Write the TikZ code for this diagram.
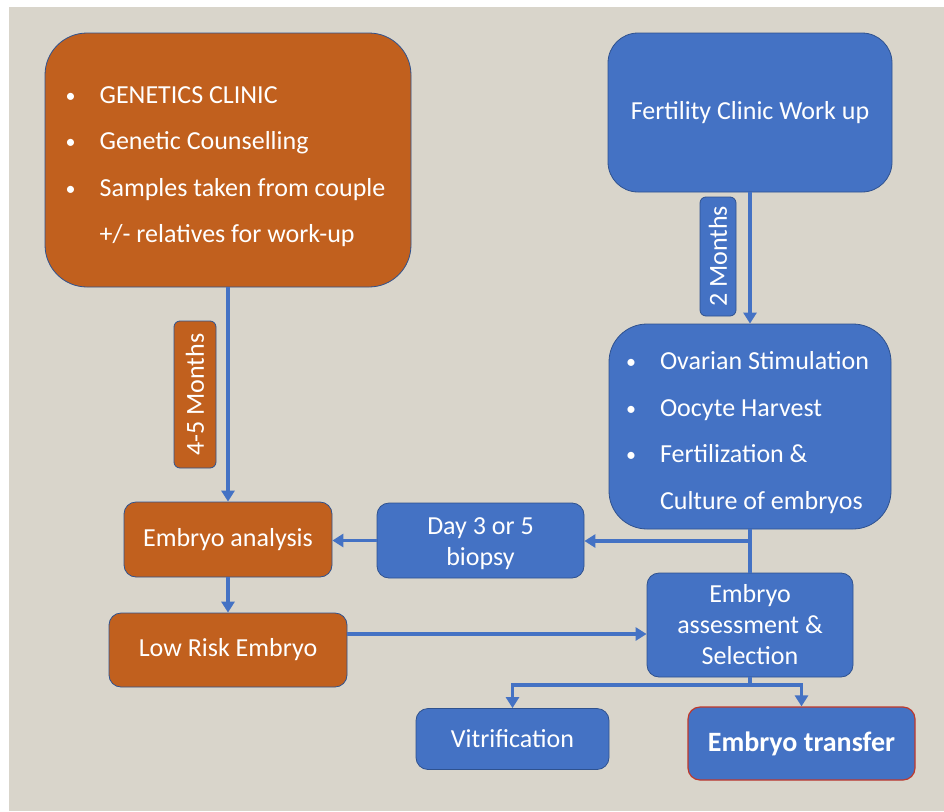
\documentclass[tikz,border=0pt]{standalone}
\usepackage{fontspec}
\setmainfont{Carlito}
\usetikzlibrary{arrows.meta}
\definecolor{bg}{RGB}{217,213,203}
\definecolor{orng}{RGB}{193,96,30}
\definecolor{blu}{RGB}{68,114,196}
\definecolor{bordblue}{RGB}{47,82,143}
\definecolor{bordred}{RGB}{192,57,43}
\newcommand\fsz{\fontsize{26}{31}\selectfont}
\newcommand\bul{\makebox[29pt][l]{\hspace{-5pt}\fontsize{20}{20}\selectfont\raisebox{1pt}{\textbullet}}}
\newcommand\lowr[1]{\raisebox{-3.5pt}[\height][\depth]{#1}}
\begin{document}
\begin{tikzpicture}[x=1pt,y=-1pt,
  box/.style={draw=bordblue, line width=0.8pt, text=white, font=\fsz, inner sep=0pt, rounded corners=12pt, align=center},
  obox/.style={box, fill=orng},
  bbox/.style={box, fill=blu},
  conn/.style={draw=blu, line width=3.2pt},
  arr/.style={conn, -{Triangle[width=13pt,length=11pt]}}]
\fill[white] (0,0) rectangle (944,811);
\fill[bg] (9,7) rectangle (944,811);
\useasboundingbox (0,0) rectangle (944,811);

\node[obox, rounded corners=42pt, minimum width=366pt, minimum height=254pt] (gen) at (228,160)
  {\lowr{\fontsize{26}{46.5}\selectfont\begin{tabular}{@{}l@{}}
   \bul GENETICS CLINIC\\
   \bul Genetic Counselling\\
   \bul Samples taken from couple\\
   \makebox[29pt]{}+/- relatives for work-up
   \end{tabular}}};

\node[bbox, rounded corners=30pt, minimum width=284pt, minimum height=159pt] (fert) at (750,112.5) {Fertility Clinic Work up};

\node[bbox, rotate=90, rounded corners=6pt, minimum width=119pt, minimum height=36pt] (two) at (718,256.5) {2 Months};

\node[bbox, rounded corners=38pt, minimum width=282pt, minimum height=205pt] (ova) at (750,426.5)
  {\lowr{\fontsize{26}{46.5}\selectfont\begin{tabular}{@{}l@{}}
   \bul Ovarian Stimulation\\
   \bul Oocyte Harvest\\
   \bul Fertilization \&\\
   \makebox[29pt]{}Culture of embryos
   \end{tabular}}};

\node[obox, rotate=90, rounded corners=6pt, minimum width=147pt, minimum height=42pt] (four) at (195,394.5) {4-5 Months};

\node[obox, minimum width=208pt, minimum height=75pt] (ana) at (228,539.5) {Embryo analysis};
\node[bbox, minimum width=207pt, minimum height=75pt] (bio) at (480.5,540.5) {\lowr{\begin{tabular}{@{}c@{}}Day 3 or 5\\biopsy\end{tabular}}};
\node[obox, minimum width=238pt, minimum height=74pt] (low) at (228,650) {Low Risk Embryo};
\node[bbox, minimum width=206pt, minimum height=104pt] (ass) at (750,625) {Embryo\\assessment \&\\Selection};
\node[bbox, minimum width=193pt, minimum height=61pt] (vit) at (512.5,739) {Vitrification};
\node[bbox, draw=bordred, line width=1.2pt, font=\fontsize{28}{33}\selectfont\bfseries, minimum width=227pt, minimum height=73pt] (tra) at (801.5,743.5) {Embryo transfer};

\coordinate (j1) at (750,541);
\coordinate (j2) at (500,634);
\coordinate (j3) at (750,685);

\draw[arr] (gen.south) -- (ana.north);
\draw[arr] (fert.south) -- (ova.north);
\draw[conn] (ova.south) -- (ass.north);
\draw[arr] (j1) -- (j1 -| bio.east);
\draw[arr] (bio.west) -- (bio.west -| ana.east);
\draw[arr] (ana.south) -- (low.north);
\draw[arr] (low.east |- j2) -- (ass.west |- j2);
\draw[conn] (ass.south) -- (j3);
\draw[arr] (j3) -| (vit.north);
\draw[arr] (j3) -| (tra.north);
\end{tikzpicture}
\end{document}
